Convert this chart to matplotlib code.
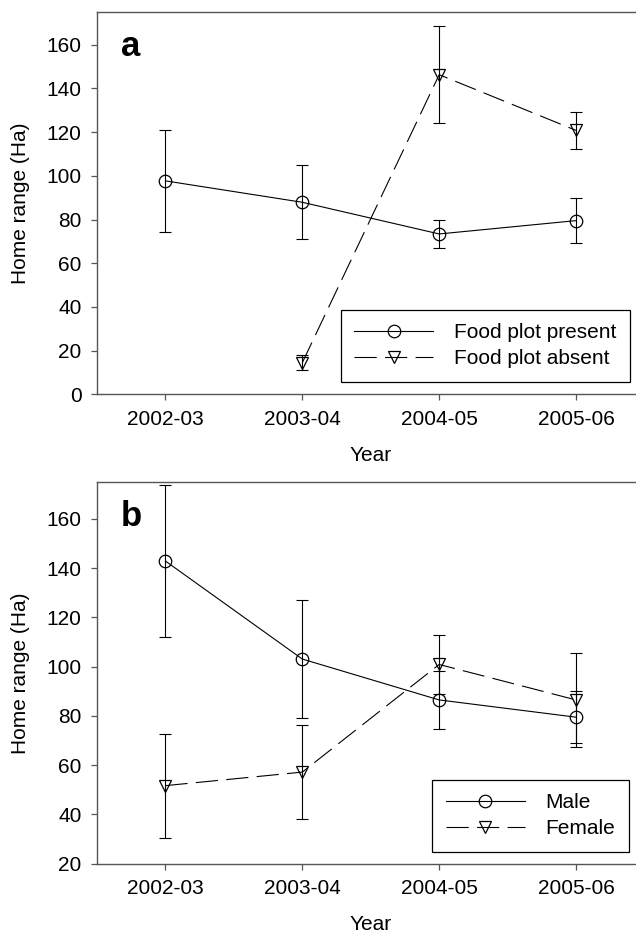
import matplotlib
matplotlib.use("Agg")
import matplotlib.pyplot as plt
import numpy as np

plt.rcParams['font.family'] = ['Liberation Sans', 'DejaVu Sans']
plt.rcParams['lines.scale_dashes'] = False

years = ["2002-03", "2003-04", "2004-05", "2005-06"]

# Panel a
present_mean = [97.7, 87.9, 73.4, 79.5]
present_err = [23.3, 17.0, 6.3, 10.3]
absent_years = ["2003-04", "2004-05", "2005-06"]
absent_mean = [14.5, 146.3, 120.8]
absent_err = [3.6, 22.1, 8.3]

# Panel b
male_mean = [142.9, 103.1, 86.5, 79.5]
male_err = [31.0, 23.8, 11.8, 10.5]
female_mean = [51.7, 57.2, 100.9, 86.5]
female_err = [21.1, 19.2, 11.8, 19.0]

W, H = 636, 933
fig = plt.figure(figsize=(W / 100, H / 100), dpi=100)

def px_axes(left, top, right, bottom):
    return fig.add_axes([left / W, 1 - bottom / H, (right - left) / W, (bottom - top) / H])

ax_a = px_axes(97, 12, 644.5, 394.3)
ax_b = px_axes(97, 482, 644.5, 863.7)

x_all = np.arange(1, len(years) + 1)
x_abs = np.array([years.index(y) + 1 for y in absent_years])

dash = (0, (16, 6))
mk = dict(markersize=9, markerfacecolor='none', markeredgecolor='black', markeredgewidth=0.9)
eb = dict(ecolor='black', elinewidth=0.8, capsize=4, capthick=0.8)

def style(ax, ylim, yticks):
    ax.set_xlim(0.5, 4.5)
    ax.set_ylim(*ylim)
    ax.set_yticks(yticks)
    ax.set_xticks(x_all)
    ax.set_xticklabels(years)
    for s in ['top', 'left', 'bottom']:
        ax.spines[s].set_color('#555555')
        ax.spines[s].set_linewidth(1.0)
    ax.spines['right'].set_visible(False)
    ax.tick_params(axis='both', direction='out', length=4, width=0.9, color='#555555', labelsize=15)
    ax.tick_params(axis='y', pad=7)
    ax.tick_params(axis='x', pad=7)
    ax.set_xlabel("Year", fontsize=15)
    ax.set_ylabel("Home range (Ha)", fontsize=15)
    ax.xaxis.set_label_coords(0.5, -0.135)
    ax.yaxis.set_label_coords(-0.122, 0.5)

# Panel a
ax_a.errorbar(x_all, present_mean, yerr=present_err, fmt='none', **eb)
ax_a.errorbar(x_abs, absent_mean, yerr=absent_err, fmt='none', **eb)
ax_a.plot(x_all, present_mean, color='black', lw=0.8, marker='o', label='Food plot present', **mk)
ax_a.plot(x_abs, absent_mean, color='black', lw=0.8, linestyle=dash, marker='v', label='Food plot absent', **mk)
style(ax_a, (0, 175), np.arange(0, 161, 20))
ax_a.text(0.044, 0.886, 'a', transform=ax_a.transAxes, fontsize=25, fontweight='bold', ha='left', va='baseline')

# Panel b
ax_b.errorbar(x_all, male_mean, yerr=male_err, fmt='none', **eb)
ax_b.errorbar(x_all, female_mean, yerr=female_err, fmt='none', **eb)
ax_b.plot(x_all, male_mean, color='black', lw=0.8, marker='o', label='Male', **mk)
ax_b.plot(x_all, female_mean, color='black', lw=0.8, linestyle=dash, marker='v', label='Female', **mk)
style(ax_b, (20, 175), np.arange(20, 161, 20))
ax_b.text(0.044, 0.886, 'b', transform=ax_b.transAxes, fontsize=25, fontweight='bold', ha='left', va='baseline')

leg_kw = dict(loc='lower right', fontsize=15, frameon=True, fancybox=False, edgecolor='black',
              handlelength=3.8, handletextpad=1.0, labelspacing=0.35, borderpad=0.65,
              borderaxespad=0.0, framealpha=1)
leg_a = ax_a.legend(bbox_to_anchor=(630 / W, 1 - 382 / H), bbox_transform=fig.transFigure, **leg_kw)
leg_b = ax_b.legend(bbox_to_anchor=(629 / W, 1 - 852 / H), bbox_transform=fig.transFigure, **leg_kw)
for leg in (leg_a, leg_b):
    leg.get_frame().set_linewidth(0.9)

fig.savefig("out.png", dpi=100)
